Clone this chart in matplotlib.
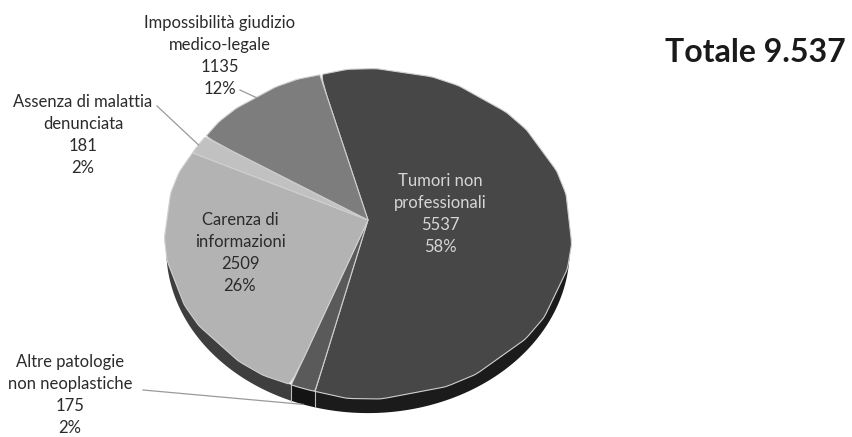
import numpy as np
import matplotlib
matplotlib.use('Agg')
import matplotlib.pyplot as plt
from matplotlib.transforms import Transform

# dati: casi per esito della valutazione
categorie = ['Tumori non\nprofessionali', 'Altre patologie\nnon neoplastiche',
             'Carenza di\ninformazioni', 'Assenza di malattia\ndenunciata',
             'Impossibilità giudizio\nmedico-legale']
casi = [5537, 175, 2509, 181, 1135]
totale = 'Totale 9.537'

colori = ['#474747', '#5a5a5a', '#b3b3b3', '#c1c1c1', '#7d7d7d']
colori_lato = ['#1b1b1b', '#141414', '#3e3e3e', '#4a4a4a', '#303030']

# geometria della torta in prospettiva (coordinate in pixel, y verso l'alto)
W, H = 853, 437
CX, CY = 368, H - 220
RX, RY = 201, 162.4
K = 0.083
SPESSORE = 16
INIZIO = 105


def proietta(u, v):
    s = 1.0 / (1.0 + K * v)
    return CX + RX * u * s, CY + RY * v * s


class Prospettiva(Transform):
    input_dims = output_dims = 2

    def transform_non_affine(self, values):
        values = np.asarray(values, dtype=float)
        x, y = proietta(values[:, 0], values[:, 1])
        return np.column_stack([x, y])

    def transform_path_non_affine(self, path):
        return super().transform_path_non_affine(path.interpolated(8))


plt.rcParams['font.family'] = ['Lato', 'DejaVu Sans']
fig = plt.figure(figsize=(W / 100, H / 100), dpi=100)
ax = fig.add_axes([0, 0, 1, 1])

wedges, _ = ax.pie(casi, colors=colori, startangle=INIZIO, counterclock=False,
                   radius=1, center=(0, 0),
                   wedgeprops=dict(edgecolor='#cfcfcf', linewidth=0.8))
for w in wedges:
    w.set_transform(Prospettiva() + ax.transData)
    w.set_zorder(3)

# angoli dei settori (gradi, senso orario dall'inizio)
frazioni = np.array(casi) / sum(casi)
fine = INIZIO - 360 * np.cumsum(frazioni)
inizio = np.concatenate([[INIZIO], fine[:-1]])
medio = (inizio + fine) / 2

# lato visibile della torta
lim = np.degrees(np.arcsin(K))
fin_lo, fin_hi = -180 + lim, -lim
for a0, a1, col in zip(fine, inizio, colori_lato):
    for sh in (-360, 0, 360):
        lo, hi = max(a0 + sh, fin_lo), min(a1 + sh, fin_hi)
        if hi <= lo:
            continue
        t = np.radians(np.linspace(lo, hi, 80))
        x, y = proietta(np.cos(t), np.sin(t))
        ax.fill(np.concatenate([x, x[::-1]]),
                np.concatenate([y, y[::-1] - SPESSORE]),
                color=col, lw=0, zorder=2)

# bordi dei settori sul lato
for a in inizio:
    for sh in (-360, 0, 360):
        if fin_lo < a + sh < fin_hi:
            x, y = proietta(np.cos(np.radians(a + sh)), np.sin(np.radians(a + sh)))
            ax.plot([x, x], [y, y - SPESSORE], color='#bdbdbd', lw=0.8, zorder=2.5)

# etichette
fs = 12
etich = ['%s\n%d\n%d%%' % (c, n, round(f * 100)) for c, n, f in zip(categorie, casi, frazioni)]
pos = [(440, 214), (70, 395), (240, 253), (83, 135), (220, 56)]
col_testo = ['#d6d6d6', '#2b2b2b', '#2b2b2b', '#2b2b2b', '#2b2b2b']
for e, (px, py), ct in zip(etich, pos, col_testo):
    ax.text(px, H - py, e, ha='center', va='center', fontsize=fs, color=ct,
            linespacing=1.45, zorder=5)

# linee di richiamo
def richiamo(x0, y0, ang, giu=0):
    x, y = proietta(np.cos(np.radians(ang)), np.sin(np.radians(ang)))
    ax.plot([x0, x], [H - y0, y - giu], color='#9a9a9a', lw=0.9, zorder=4)

richiamo(143, 390, medio[1] + 360, SPESSORE)
richiamo(157, 106, medio[3] + 360)
richiamo(240, 90, medio[4])

ax.text(755, H - 53, totale, ha='center', va='center', fontsize=23,
        fontweight='bold', color='#1a1a1a')

ax.set_xlim(0, W)
ax.set_ylim(0, H)
ax.set_aspect('auto')
ax.axis('off')
fig.savefig('out.png', dpi=100, facecolor='white')
